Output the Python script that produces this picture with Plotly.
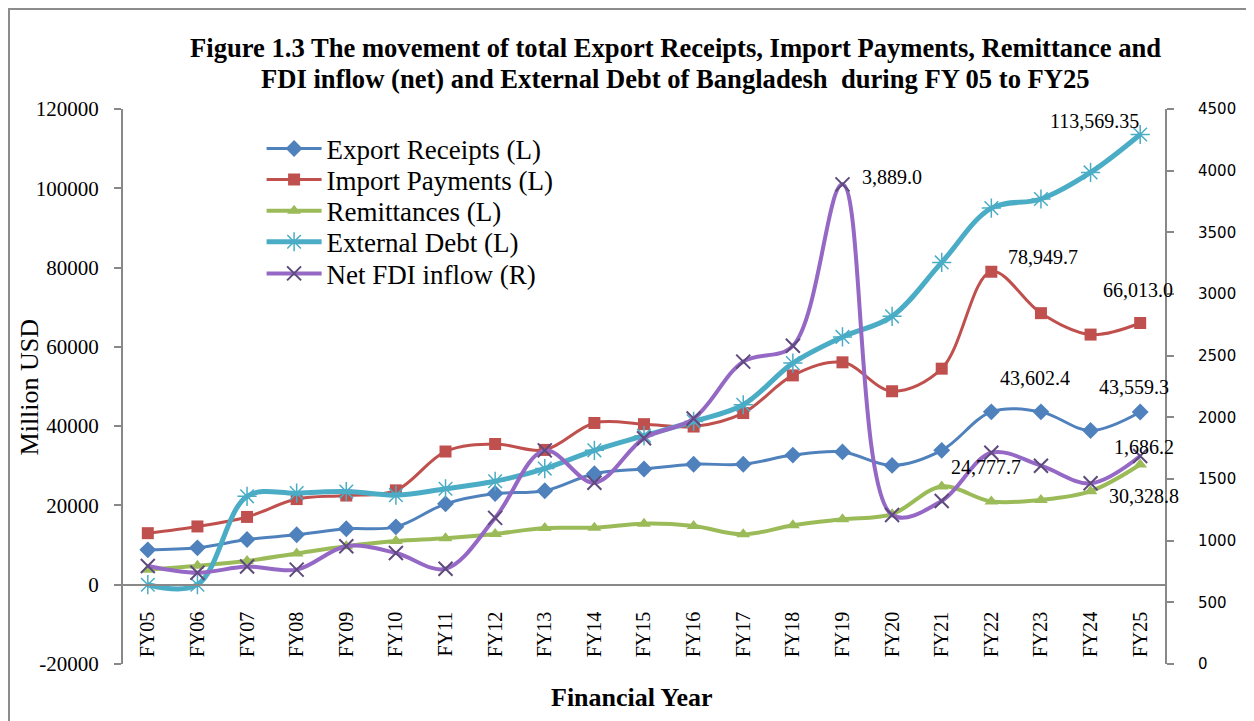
import plotly.graph_objects as go

years = ["FY05", "FY06", "FY07", "FY08", "FY09", "FY10", "FY11", "FY12", "FY13", "FY14", "FY15",
         "FY16", "FY17", "FY18", "FY19", "FY20", "FY21", "FY22", "FY23", "FY24", "FY25"]

export_receipts = [8800, 9300, 11400, 12600, 14100, 14600, 20400, 23000, 23700, 28000, 29200,
                   30400, 30400, 32700, 33500, 30100, 33900, 43602.4, 43600, 38900, 43559.3]
import_payments = [13000, 14700, 17100, 21600, 22500, 23800, 33600, 35500, 34000, 40800, 40500,
                   39900, 43300, 52800, 56100, 48800, 54500, 78949.7, 68500, 63100, 66013.0]
remittances = [3800, 4800, 6000, 7900, 9700, 11000, 11700, 12800, 14300, 14400, 15400,
               14800, 12700, 15000, 16500, 17800, 24777.7, 21000, 21400, 23600, 30328.8]
external_debt = [0, 0, 22300, 23100, 23500, 22600, 24200, 26100, 29300, 33900, 37600,
                 41200, 45400, 55900, 62500, 67700, 81300, 95000, 97300, 104000, 113569.35]
net_fdi = [795, 740, 790, 765, 955, 900, 772, 1185, 1732, 1470, 1830,
           1990, 2452, 2580, 3889.0, 1208, 1322, 1713, 1608, 1465, 1686.2]

left_ticks = [-20000, 0, 20000, 40000, 60000, 80000, 100000, 120000]
right_ticks = [0, 500, 1000, 1500, 2000, 2500, 3000, 3500, 4000, 4500]

SERIF = "Liberation Serif"
SANS = "DejaVu Sans"
AXIS_GREY = "#888888"

fig = go.Figure()

series = [
    ("Export Receipts (L)", export_receipts, "#4F81BD", 3, dict(symbol="diamond", size=13, color="#4F81BD"), "y"),
    ("Import Payments (L)", import_payments, "#C0504D", 3, dict(symbol="square", size=12, color="#C0504D"), "y"),
    ("Remittances (L)", remittances, "#9BBB59", 4, dict(symbol="triangle-up", size=12, color="#9BBB59"), "y"),
    ("External Debt (L)", external_debt, "#4BACC6", 5,
     dict(symbol="asterisk-open", size=16, color="#4BACC6", line=dict(width=1.5, color="#4BACC6")), "y"),
    ("Net FDI inflow (R)", net_fdi, "#9468C4", 4,
     dict(symbol="x-thin-open", size=14, color="#5F4A7E", line=dict(width=2, color="#5F4A7E")), "y2"),
]

# one legend per entry so the row spacing can match the original
legend_rows = [0.928, 0.872, 0.816, 0.760, 0.703]
legend_names = ["legend", "legend2", "legend3", "legend4", "legend5"]

for k, (name, vals, color, width, marker, axis) in enumerate(series):
    fig.add_trace(
        go.Scatter(
            x=years,
            y=vals,
            mode="lines+markers",
            line=dict(color=color, width=width, shape="spline", smoothing=1),
            marker=marker,
            name=name,
            yaxis=axis,
            legend=legend_names[k],
        )
    )

# value labels (x index, series, axis, xshift, yshift, format)
labels = [
    (20, external_debt, "y", -46, 13, "{:,.2f}"),
    (14, net_fdi, "y2", 50, 7, "{:,.1f}"),
    (17, import_payments, "y", 52, 15, "{:,.1f}"),
    (20, import_payments, "y", -2, 33, "{:,.1f}"),
    (17, export_receipts, "y", 44, 34, "{:,.1f}"),
    (20, export_receipts, "y", -6, 25, "{:,.1f}"),
    (20, net_fdi, "y2", 4, 9, "{:,.1f}"),
    (16, remittances, "y", 44, 19, "{:,.1f}"),
    (20, remittances, "y", 4, -32, "{:,.1f}"),
]
for i, vals, axis, dx, dy, fmt in labels:
    fig.add_annotation(
        x=years[i], y=vals[i], xref="x", yref=axis,
        text=fmt.format(vals[i]), showarrow=False,
        xanchor="center", yanchor="middle", xshift=dx, yshift=dy,
        font=dict(family=SERIF, size=20, color="black"),
    )

title_lines = [
    "Figure 1.3 The movement of total Export Receipts, Import Payments, Remittance and",
    "FDI inflow (net) and External Debt of Bangladesh  during FY 05 to FY25",
]
for line, ypos in zip(title_lines, [1.1099, 1.054]):
    fig.add_annotation(
        x=0.5307, y=ypos, xref="paper", yref="paper", xanchor="center", yanchor="middle",
        text="<b>" + line + "</b>", showarrow=False,
        font=dict(family=SERIF, size=26.6, color="black"),
    )
fig.add_annotation(
    x=-0.0893, y=0.5, xref="paper", yref="paper", text="Million USD", textangle=-90,
    xanchor="center", yanchor="middle",
    showarrow=False, font=dict(family=SERIF, size=26, color="black"),
)
fig.add_annotation(
    x=0.4885, y=-0.0595, xref="paper", yref="paper", text="<b>Financial Year</b>",
    showarrow=False, xanchor="center", yanchor="middle",
    font=dict(family=SERIF, size=26, color="black"),
)

# chart-area border (only top and left fall inside the picture)
fig.add_shape(type="rect", xref="paper", yref="paper",
              x0=-114 / 1042, x1=1.2, y0=-0.2, y1=(555 + 100) / 555,
              line=dict(color="#8C8C8C", width=2))

legend_style = dict(
    x=0.133, xanchor="left", yanchor="middle",
    font=dict(family=SERIF, size=27, color="black"),
    bgcolor="rgba(0,0,0,0)", itemwidth=55,
)
legend_layout = {nm: dict(legend_style, y=yy) for nm, yy in zip(legend_names, legend_rows)}

fig.update_layout(
    width=1246,
    height=713,
    paper_bgcolor="white",
    plot_bgcolor="white",
    margin=dict(l=115, r=89, t=101, b=57),
    showlegend=True,
    xaxis=dict(
        type="category", range=[-0.5, len(years) - 0.5], anchor="free", position=20000 / 140000,
        showline=True, linecolor=AXIS_GREY, linewidth=2, ticks="",
        tickangle=-90, showgrid=False, automargin=False, ticklabelstandoff=18,
        tickfont=dict(family=SERIF, size=20, color="black"),
    ),
    yaxis=dict(
        range=[-20000, 120000], tickvals=left_ticks, ticktext=[str(v) for v in left_ticks],
        showgrid=False, zeroline=False,
        showline=True, linecolor=AXIS_GREY, linewidth=2, ticks="outside", ticklen=7,
        tickcolor=AXIS_GREY, tickwidth=2, automargin=False, ticklabelstandoff=11,
        tickfont=dict(family=SERIF, size=21, color="black"),
    ),
    yaxis2=dict(
        range=[0, 4500], tickvals=right_ticks, ticktext=[str(v) for v in right_ticks],
        overlaying="y", side="right", showgrid=False,
        zeroline=False, showline=True, linecolor=AXIS_GREY, linewidth=2,
        ticks="outside", ticklen=7, tickcolor=AXIS_GREY, tickwidth=2, automargin=False,
        ticklabelstandoff=21,
        tickfont=dict(family=SANS, size=15, color="black"),
    ),
    **legend_layout,
)

fig.write_html("out.html")
